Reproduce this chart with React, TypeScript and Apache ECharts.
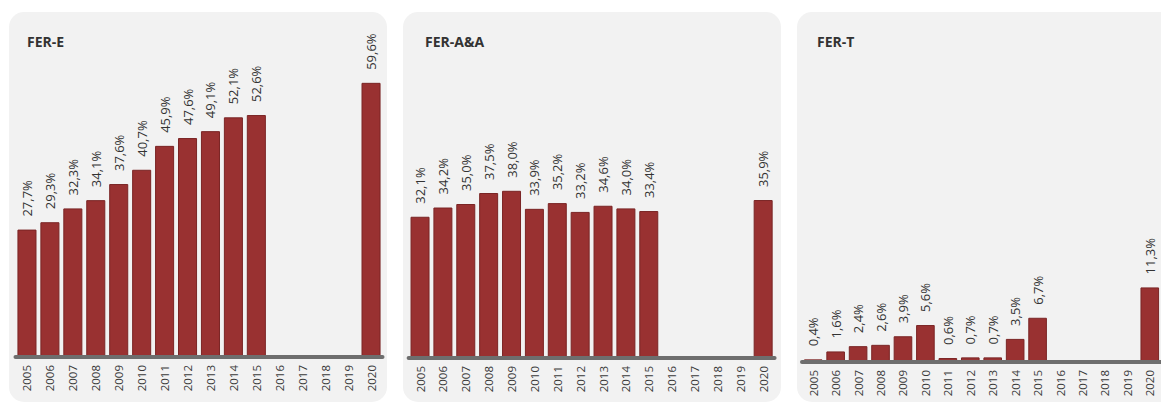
import React, { useEffect, useRef } from "react";
import * as echarts from "echarts";

const years = ["2005","2006","2007","2008","2009","2010","2011","2012","2013","2014","2015","2016","2017","2018","2019","2020"];
const titles = ["FER-E", "FER-A&A", "FER-T"];
const ferE = [27.7, 29.3, 32.3, 34.1, 37.6, 40.7, 45.9, 47.6, 49.1, 52.1, 52.6, null, null, null, null, 59.6];
const ferAA = [32.1, 34.2, 35.0, 37.5, 38.0, 33.9, 35.2, 33.2, 34.6, 34.0, 33.4, null, null, null, null, 35.9];
const ferT = [0.4, 1.6, 2.4, 2.6, 3.9, 5.6, 0.6, 0.7, 0.7, 3.5, 6.7, null, null, null, null, 11.3];
const seriesData = [ferE, ferAA, ferT];

// layout (px) per panel
const panels = [
  { bgX: 9, bgW: 378, gridLeft: 15.5, gridWidth: 367, baseline: 357, yMax: 70, pxPerUnit: 4.6, titleX: 27 },
  { bgX: 403, bgW: 378, gridLeft: 408.6, gridWidth: 366, baseline: 358, yMax: 70, pxPerUnit: 4.4, titleX: 425 },
  { bgX: 797, bgW: 385, gridLeft: 802, gridWidth: 364, baseline: 362, yMax: 45, pxPerUnit: 6.6, titleX: 817 },
];

const H = 406;
const W = 1161;
const FONT = "'Open Sans', 'Liberation Sans', sans-serif";

export default function App() {
  const ref = useRef<HTMLDivElement>(null);
  useEffect(() => {
    if (!ref.current) return;
    const chart = echarts.init(ref.current, undefined, { renderer: "svg" });
    const grids = panels.map((p) => {
      const h = p.yMax * p.pxPerUnit;
      return { left: p.gridLeft, width: p.gridWidth, top: p.baseline - h, height: h, containLabel: false };
    });
    const xAxes = panels.map((_, i) => ({
      type: "category",
      gridIndex: i,
      data: years,
      boundaryGap: true,
      z: 5,
      axisLine: { show: true, lineStyle: { color: "#6e6e6e", width: 4 } },
      axisTick: { show: false },
      axisLabel: {
        rotate: 90,
        interval: 0,
        margin: 8,
        fontSize: 11.5,
        fontFamily: FONT,
        color: "#3a3a3a",
      },
      splitLine: { show: false },
    }));
    const yAxes = panels.map((p, i) => ({
      type: "value",
      gridIndex: i,
      min: 0,
      max: p.yMax,
      show: false,
      splitLine: { show: false },
    }));
    const series = seriesData.map((d, i) => ({
      type: "bar",
      xAxisIndex: i,
      yAxisIndex: i,
      data: d,
      barCategoryGap: "17%",
      itemStyle: { color: "#993131", borderColor: "#7a2525", borderWidth: 1 },
      label: {
        show: true,
        position: "top",
        rotate: 90,
        align: "left",
        verticalAlign: "middle",
        distance: 13,
        fontSize: 13,
        fontFamily: FONT,
        color: "#333333",
        formatter: (prm: any) =>
          prm.value == null ? "" : Number(prm.value).toFixed(1).replace(".", ",") + "%",
      },
    }));
    const graphic = panels.map((p) => ({
      type: "rect",
      z: -10,
      silent: true,
      shape: { x: p.bgX, y: 12, width: p.bgW, height: 390, r: 15 },
      style: { fill: "#f2f2f2" },
    }));
    const title = panels.map((p, i) => ({
      text: titles[i],
      left: p.titleX,
      top: 34,
      padding: 0,
      textStyle: { fontSize: 14, fontWeight: "bold", fontFamily: FONT, color: "#333" },
    }));
    chart.setOption({
      animation: false,
      backgroundColor: "#ffffff",
      title,
      graphic,
      grid: grids,
      xAxis: xAxes,
      yAxis: yAxes,
      series,
    });
    return () => chart.dispose();
  }, []);
  return (
    <div
      ref={ref}
      style={{ position: "fixed", left: 0, top: 0, width: W, height: H, background: "#fff" }}
    />
  );
}
